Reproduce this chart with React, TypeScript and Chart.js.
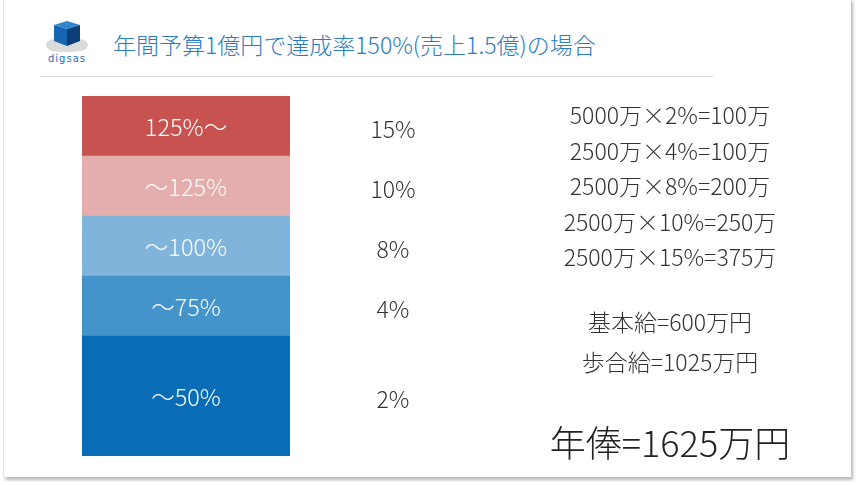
import React, { useEffect, useRef } from "react";
import { Chart, registerables } from "chart.js";

Chart.register(...registerables);

const bands = ["〜50%", "〜75%", "〜100%", "〜125%", "125%〜"];
const bandWidths = [50, 25, 25, 25, 25];
const rates = ["2%", "4%", "8%", "10%", "15%"];
const bandColors = ["#086db6", "#4493cb", "#80b4da", "#e4aeae", "#c85250"];
const formulas = [
  "5000万×2%=100万",
  "2500万×4%=100万",
  "2500万×8%=200万",
  "2500万×10%=250万",
  "2500万×15%=375万",
];
const summary = ["基本給=600万円", "歩合給=1025万円"];
const total = "年俸=1625万円";
const title = "年間予算1億円で達成率150%(売上1.5億)の場合";

const FONT = '"Noto Sans CJK JP", "Noto Sans", sans-serif';

const labelPlugin = {
  id: "bandLabels",
  afterDatasetsDraw(chart: any) {
    const ctx = chart.ctx;
    ctx.save();
    ctx.textAlign = "center";
    ctx.textBaseline = "middle";
    chart.data.datasets.forEach((ds: any, i: number) => {
      const meta = chart.getDatasetMeta(i);
      const bar = meta.data[0];
      if (!bar) return;
      const cy = (bar.y + bar.base) / 2;
      ctx.fillStyle = "#ffffff";
      ctx.font = `300 23.5px ${FONT}`;
      ctx.fillText(ds.label, bar.x, cy + 1);
      ctx.fillStyle = "#333333";
      ctx.font = `300 23px ${FONT}`;
      ctx.fillText(rates[i], 393, cy + 3);
    });
    ctx.restore();
  },
};

function Logo() {
  return (
    <svg width="50" height="52" viewBox="0 0 50 52" style={{ position: "absolute", left: 42, top: 14 }}>
      <g fill="#d9dadc">
        <ellipse cx="13" cy="31" rx="9" ry="6" />
        <ellipse cx="25" cy="29" rx="13" ry="8" />
        <ellipse cx="37" cy="31" rx="9" ry="6" />
        <ellipse cx="25" cy="34" rx="19" ry="4" />
      </g>
      <polygon points="12,11 25,7 38,11 25,15" fill="#2f86cf" />
      <polygon points="12,11 25,15 25,32 12,27" fill="#1565b0" />
      <polygon points="25,15 38,11 38,27 25,32" fill="#0b3f7a" />
      <text x="25" y="48" textAnchor="middle" fontFamily="DejaVu Sans, sans-serif" fontSize="10" fill="#1f6fb5" letterSpacing="1">digsas</text>
    </svg>
  );
}

export default function App() {
  const ref = useRef<HTMLCanvasElement>(null);
  useEffect(() => {
    if (!ref.current) return;
    const chart = new Chart(ref.current, {
      type: "bar",
      data: {
        labels: ["達成率"],
        datasets: bands.map((b, i) => ({
          label: b,
          data: [bandWidths[i]],
          backgroundColor: bandColors[i],
          borderWidth: 0,
          barPercentage: 1,
          categoryPercentage: 1,
          stack: "s",
        })),
      },
      options: {
        responsive: false,
        animation: false,
        devicePixelRatio: 1,
        layout: { padding: { left: 82, right: 566, top: 96, bottom: 29 } },
        scales: {
          x: { display: false, stacked: true },
          y: { display: false, stacked: true, min: 0, max: 150 },
        },
        plugins: { legend: { display: false }, tooltip: { enabled: false } },
      },
      plugins: [labelPlugin],
    });
    return () => chart.destroy();
  }, []);

  const textStyle: React.CSSProperties = {
    position: "absolute",
    left: 520,
    width: 300,
    textAlign: "center",
    fontFamily: FONT,
    fontWeight: 300,
    color: "#333",
    whiteSpace: "nowrap",
  };

  return (
    <div style={{ position: "fixed", left: 0, top: 0, width: 856, height: 485, background: "#fff", overflow: "hidden" }}>
      <div
        style={{
          position: "absolute",
          left: 3,
          top: -2,
          width: 847,
          height: 479,
          background: "#fff",
          borderLeft: "1px solid #e6e6e6",
          boxShadow: "2px 3px 3px rgba(0,0,0,0.28)",
        }}
      />
      <Logo />
      <div
        style={{
          position: "absolute",
          left: 113,
          top: 28,
          fontFamily: FONT,
          fontWeight: 300,
          fontSize: 23,
          lineHeight: "32px",
          color: "#2a7bc0",
          whiteSpace: "nowrap",
        }}
      >
        {title}
      </div>
      <div style={{ position: "absolute", left: 40, top: 76, width: 673, height: 1, background: "#dcdcdc" }} />
      <canvas ref={ref} width={856} height={485} style={{ position: "absolute", left: 0, top: 0 }} />
      {formulas.map((f, i) => (
        <div key={f} style={{ ...textStyle, top: 97 + i * 35.5, fontSize: 23, lineHeight: "34px" }}>
          {f}
        </div>
      ))}
      {summary.map((s, i) => (
        <div key={s} style={{ ...textStyle, top: 304 + i * 40, fontSize: 23, lineHeight: "34px" }}>
          {s}
        </div>
      ))}
      <div style={{ ...textStyle, top: 417, fontSize: 36, lineHeight: "48px", color: "#222" }}>{total}</div>
    </div>
  );
}
